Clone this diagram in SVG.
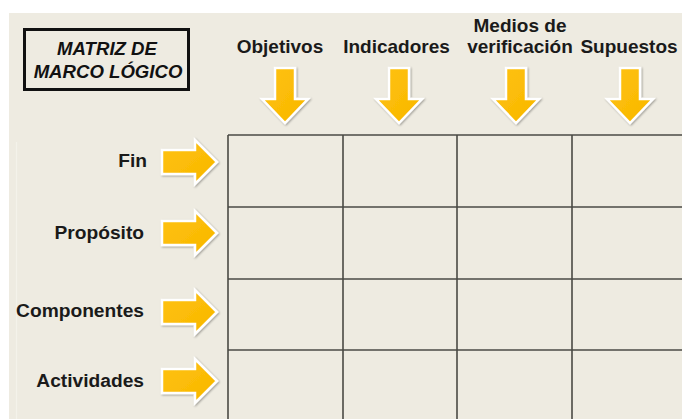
<svg xmlns="http://www.w3.org/2000/svg" width="682" height="419" viewBox="0 0 682 419">
  <defs>
    <style>
      .hdr { font-family: "Liberation Sans", Arial, sans-serif; font-weight: bold; font-size: 19px; fill: #1a1a1a; text-anchor: middle; }
      .row { font-family: "Liberation Sans", Arial, sans-serif; font-weight: bold; font-size: 19.2px; fill: #1a1a1a; text-anchor: end; }
      .title { font-family: "Liberation Sans", Arial, sans-serif; font-weight: bold; font-style: italic; font-size: 18.6px; fill: #111; text-anchor: middle; }
      .arrow { fill: url(#gold); stroke: #ffffff; stroke-width: 2.5; stroke-linejoin: miter; filter: url(#shadow); }
      .grid line { stroke: #4a4a44; stroke-width: 1.6; }
    </style>
    <linearGradient id="gold" x1="0" y1="0" x2="1" y2="1">
      <stop offset="0" stop-color="#FFC20E"/>
      <stop offset="1" stop-color="#F8B700"/>
    </linearGradient>
    <filter id="shadow" x="-30%" y="-30%" width="160%" height="160%">
      <feGaussianBlur in="SourceAlpha" stdDeviation="1.2"/>
      <feOffset dx="0.8" dy="1.2" result="b"/>
      <feComponentTransfer><feFuncA type="linear" slope="0.35"/></feComponentTransfer>
      <feMerge><feMergeNode/><feMergeNode in="SourceGraphic"/></feMerge>
    </filter>
    <path id="down" d="M -10 0 H 10 V 31 H 23 L 0 55 L -23 31 H -10 Z"/>
    <path id="right" d="M 0 -12 H 33 V -22 L 55 0 L 33 22 V 12 H 0 Z"/>
  </defs>

  <rect x="0" y="0" width="682" height="419" fill="#ffffff"/>
  <rect x="9" y="13" width="673" height="406" fill="#EEEBE1"/>
  <line x1="16.5" y1="142" x2="16.5" y2="419" stroke="#f4f2ea" stroke-width="1.2"/>

  <g id="title">
    <rect x="24.5" y="29.5" width="164" height="60" fill="none" stroke="#111" stroke-width="3"/>
    <text class="title" x="107" y="55">MATRIZ DE</text>
    <text class="title" x="108" y="78">MARCO LÓGICO</text>
  </g>

  <g id="col-objetivos">
    <text class="hdr" x="280" y="53">Objetivos</text>
    <use href="#down" class="arrow" x="285" y="68"/>
  </g>
  <g id="col-indicadores">
    <text class="hdr" x="396.5" y="53">Indicadores</text>
    <use href="#down" class="arrow" x="399" y="68"/>
  </g>
  <g id="col-medios">
    <text class="hdr" x="520" y="32">Medios de</text>
    <text class="hdr" x="520" y="53">verificación</text>
    <use href="#down" class="arrow" x="516" y="68"/>
  </g>
  <g id="col-supuestos">
    <text class="hdr" x="629" y="53">Supuestos</text>
    <use href="#down" class="arrow" x="630" y="68"/>
  </g>

  <g id="row-fin">
    <text class="row" x="147" y="167">Fin</text>
    <use href="#right" class="arrow" x="162" y="162"/>
  </g>
  <g id="row-proposito">
    <text class="row" x="144" y="239">Propósito</text>
    <use href="#right" class="arrow" x="162" y="233"/>
  </g>
  <g id="row-componentes">
    <text class="row" x="144" y="317">Componentes</text>
    <use href="#right" class="arrow" x="162" y="312"/>
  </g>
  <g id="row-actividades">
    <text class="row" x="144" y="387">Actividades</text>
    <use href="#right" class="arrow" x="162" y="381"/>
  </g>

  <g id="connectors" class="grid">
    <line x1="228" y1="135" x2="682" y2="135"/>
    <line x1="228" y1="207" x2="682" y2="207"/>
    <line x1="228" y1="279" x2="682" y2="279"/>
    <line x1="228" y1="350" x2="682" y2="350"/>
    <line x1="228" y1="135" x2="228" y2="419"/>
    <line x1="343" y1="135" x2="343" y2="419"/>
    <line x1="457" y1="135" x2="457" y2="419"/>
    <line x1="572" y1="135" x2="572" y2="419"/>
  </g>
</svg>
